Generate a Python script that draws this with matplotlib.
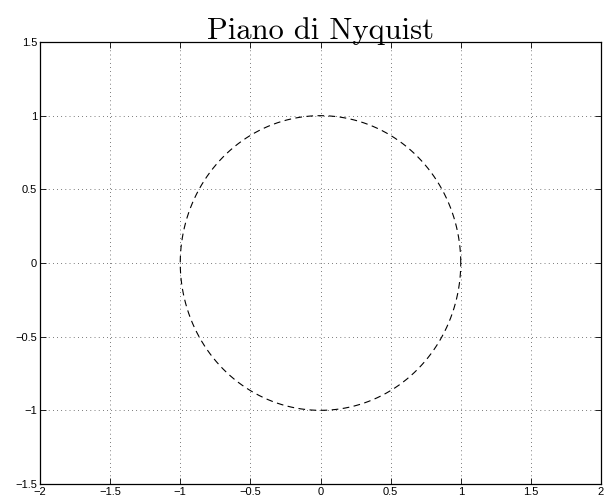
import numpy as np
import matplotlib
matplotlib.use("Agg")
import matplotlib.pyplot as plt

# Data: unit circle (Nyquist plot)
theta_deg = np.arange(0, 361, 1)
radius = 1.0
x_ticks = [-2, -1.5, -1, -0.5, 0, 0.5, 1, 1.5, 2]
y_ticks = [-1.5, -1, -0.5, 0, 0.5, 1, 1.5]
x_labels = ["\u22122", "\u22121.5", "\u22121", "\u22120.5", "0", "0.5", "1", "1.5", "2"]
y_labels = ["\u22121.5", "\u22121", "\u22120.5", "0", "0.5", "1", "1.5"]
title = "Piano di Nyquist"

fig = plt.figure(figsize=(6.08, 4.99), dpi=100)
ax = fig.add_axes([40/608, 15/499, 561/608, 442/499])
th = np.deg2rad(theta_deg)
ax.plot(radius*np.cos(th), radius*np.sin(th), color="black", lw=0.8, linestyle=(0, (6, 4)))
ax.set_xlim(-2, 2)
ax.set_ylim(-1.5, 1.5)
ax.set_xticks(x_ticks)
ax.set_yticks(y_ticks)
ax.set_xticklabels(x_labels, family="Liberation Sans", fontsize=8)
ax.set_yticklabels(y_labels, family="Liberation Sans", fontsize=8)
ax.tick_params(direction="in", length=4, width=0.6, top=True, right=True, pad=2)
ax.grid(True, color="black", linestyle=(0, (1, 5)), linewidth=0.5)
for s in ax.spines.values():
    s.set_linewidth(0.9)
ax.set_title(title, family="cmr10", fontsize=22, pad=2)
fig.savefig("out.png", dpi=100)
